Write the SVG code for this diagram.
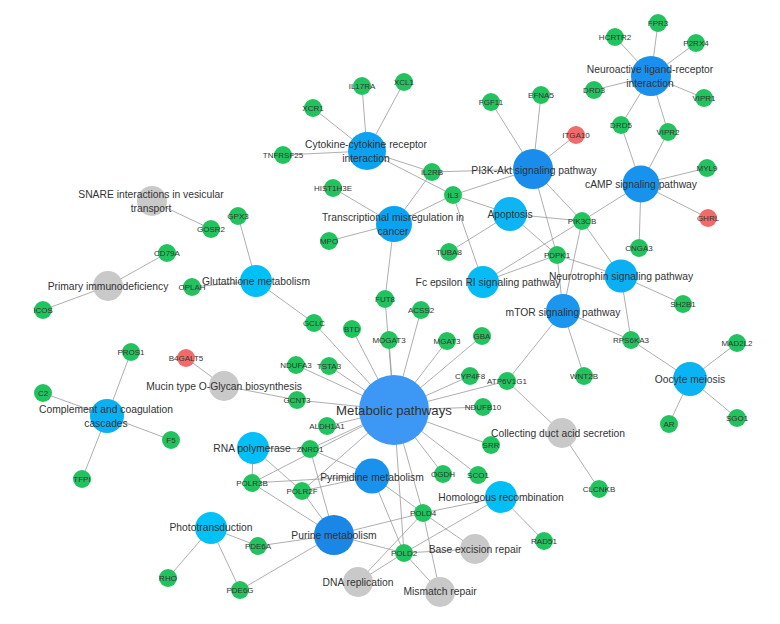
<svg xmlns="http://www.w3.org/2000/svg" width="780" height="624" viewBox="0 0 780 624">
<style>
text{font-family:"Liberation Sans",Arial,sans-serif;fill:#333;text-anchor:middle}
.gene circle{fill:#22C35E}
.red circle{fill:#F26B6B}
.gene text{font-size:8px}
.gray circle{fill:#C9C9C9}
.hub text,.gray text{font-size:10.3px}
#edges line{stroke:#999;stroke-width:0.8}
</style>
<rect width="780" height="624" fill="#fff"/>
<g id="edges">
<line x1="367" y1="151" x2="362" y2="86"/><line x1="367" y1="151" x2="404" y2="82"/><line x1="367" y1="151" x2="313" y2="108"/><line x1="367" y1="151" x2="283" y2="155"/><line x1="367" y1="151" x2="432" y2="172"/><line x1="367" y1="151" x2="453" y2="195"/>
<line x1="533" y1="169" x2="491" y2="102"/><line x1="533" y1="169" x2="541" y2="95"/><line x1="533" y1="169" x2="576" y2="135"/><line x1="533" y1="169" x2="432" y2="172"/><line x1="533" y1="169" x2="453" y2="195"/><line x1="533" y1="169" x2="582" y2="221"/><line x1="533" y1="169" x2="557" y2="255"/>
<line x1="651" y1="76" x2="658" y2="23"/><line x1="651" y1="76" x2="615" y2="37"/><line x1="651" y1="76" x2="696" y2="43"/><line x1="651" y1="76" x2="594" y2="90"/><line x1="651" y1="76" x2="704" y2="98"/><line x1="651" y1="76" x2="621" y2="125"/><line x1="651" y1="76" x2="668" y2="132"/>
<line x1="641" y1="184" x2="621" y2="125"/><line x1="641" y1="184" x2="668" y2="132"/><line x1="641" y1="184" x2="707" y2="168"/><line x1="641" y1="184" x2="708" y2="218"/><line x1="641" y1="184" x2="582" y2="221"/><line x1="641" y1="184" x2="639" y2="248"/>
<line x1="394" y1="224" x2="333" y2="188"/><line x1="394" y1="224" x2="329" y2="241"/><line x1="394" y1="224" x2="432" y2="172"/><line x1="394" y1="224" x2="453" y2="195"/><line x1="394" y1="224" x2="385" y2="299"/>
<line x1="510" y1="214" x2="453" y2="195"/><line x1="510" y1="214" x2="449" y2="252"/><line x1="510" y1="214" x2="582" y2="221"/><line x1="510" y1="214" x2="557" y2="255"/>
<line x1="483" y1="282" x2="453" y2="195"/><line x1="483" y1="282" x2="582" y2="221"/><line x1="483" y1="282" x2="557" y2="255"/>
<line x1="621" y1="276" x2="582" y2="221"/><line x1="621" y1="276" x2="557" y2="255"/><line x1="621" y1="276" x2="683" y2="304"/><line x1="621" y1="276" x2="631" y2="340"/>
<line x1="563" y1="311" x2="582" y2="221"/><line x1="563" y1="311" x2="557" y2="255"/><line x1="563" y1="311" x2="631" y2="340"/><line x1="563" y1="311" x2="584" y2="376"/><line x1="563" y1="311" x2="507" y2="381"/>
<line x1="690" y1="379" x2="631" y2="340"/><line x1="690" y1="379" x2="737" y2="343"/><line x1="690" y1="379" x2="669" y2="424"/><line x1="690" y1="379" x2="737" y2="418"/>
<line x1="562" y1="433" x2="507" y2="381"/><line x1="562" y1="433" x2="599" y2="489"/>
<line x1="152" y1="201" x2="211" y2="229"/>
<line x1="256" y1="281" x2="238" y2="216"/><line x1="256" y1="281" x2="192" y2="287"/><line x1="256" y1="281" x2="314" y2="323"/>
<line x1="108" y1="286" x2="167" y2="253"/><line x1="108" y1="286" x2="43" y2="310"/>
<line x1="107" y1="416" x2="131" y2="352"/><line x1="107" y1="416" x2="43" y2="393"/><line x1="107" y1="416" x2="171" y2="440"/><line x1="107" y1="416" x2="82" y2="479"/>
<line x1="224" y1="386" x2="186" y2="358"/><line x1="224" y1="386" x2="297" y2="400"/>
<line x1="394" y1="410" x2="385" y2="299"/><line x1="394" y1="410" x2="314" y2="323"/><line x1="394" y1="410" x2="352" y2="329"/><line x1="394" y1="410" x2="389" y2="340"/><line x1="394" y1="410" x2="421" y2="310"/><line x1="394" y1="410" x2="447" y2="341"/><line x1="394" y1="410" x2="482" y2="336"/><line x1="394" y1="410" x2="296" y2="365"/><line x1="394" y1="410" x2="329" y2="366"/><line x1="394" y1="410" x2="470" y2="376"/><line x1="394" y1="410" x2="507" y2="381"/><line x1="394" y1="410" x2="297" y2="400"/><line x1="394" y1="410" x2="483" y2="407"/><line x1="394" y1="410" x2="327" y2="426"/><line x1="394" y1="410" x2="310" y2="449"/><line x1="394" y1="410" x2="252" y2="483"/><line x1="394" y1="410" x2="302" y2="491"/><line x1="394" y1="410" x2="491" y2="445"/><line x1="394" y1="410" x2="443" y2="474"/><line x1="394" y1="410" x2="478" y2="475"/><line x1="394" y1="410" x2="423" y2="513"/><line x1="394" y1="410" x2="404" y2="553"/>
<line x1="253" y1="448" x2="310" y2="449"/><line x1="253" y1="448" x2="252" y2="483"/><line x1="253" y1="448" x2="302" y2="491"/>
<line x1="334" y1="535" x2="310" y2="449"/><line x1="334" y1="535" x2="252" y2="483"/><line x1="334" y1="535" x2="302" y2="491"/><line x1="334" y1="535" x2="423" y2="513"/><line x1="334" y1="535" x2="404" y2="553"/><line x1="334" y1="535" x2="258" y2="546"/><line x1="334" y1="535" x2="240" y2="590"/>
<line x1="372" y1="476" x2="310" y2="449"/><line x1="372" y1="476" x2="252" y2="483"/><line x1="372" y1="476" x2="302" y2="491"/><line x1="372" y1="476" x2="423" y2="513"/><line x1="372" y1="476" x2="404" y2="553"/>
<line x1="211" y1="528" x2="168" y2="578"/><line x1="211" y1="528" x2="258" y2="546"/><line x1="211" y1="528" x2="240" y2="590"/>
<line x1="501" y1="497" x2="423" y2="513"/><line x1="501" y1="497" x2="404" y2="553"/><line x1="501" y1="497" x2="544" y2="541"/>
<line x1="358" y1="582" x2="423" y2="513"/><line x1="358" y1="582" x2="404" y2="553"/>
<line x1="475" y1="549" x2="423" y2="513"/><line x1="475" y1="549" x2="404" y2="553"/>
<line x1="440" y1="592" x2="423" y2="513"/><line x1="440" y1="592" x2="404" y2="553"/>
</g>
<g id="genes">
<g id="IL17RA" class="gene"><circle cx="362" cy="86" r="9"/><text x="362" y="86" dy="0.35em">IL17RA</text></g>
<g id="XCL1" class="gene"><circle cx="404" cy="82" r="9"/><text x="404" y="82" dy="0.35em">XCL1</text></g>
<g id="XCR1" class="gene"><circle cx="313" cy="108" r="9"/><text x="313" y="108" dy="0.35em">XCR1</text></g>
<g id="TNFRSF25" class="gene"><circle cx="283" cy="155" r="9"/><text x="283" y="155" dy="0.35em">TNFRSF25</text></g>
<g id="FGF11" class="gene"><circle cx="491" cy="102" r="9"/><text x="491" y="102" dy="0.35em">FGF11</text></g>
<g id="EFNA5" class="gene"><circle cx="541" cy="95" r="9"/><text x="541" y="95" dy="0.35em">EFNA5</text></g>
<g id="ITGA10" class="gene red"><circle cx="576" cy="135" r="9"/><text x="576" y="135" dy="0.35em">ITGA10</text></g>
<g id="FPR3" class="gene"><circle cx="658" cy="23" r="9"/><text x="658" y="23" dy="0.35em">FPR3</text></g>
<g id="HCRTR2" class="gene"><circle cx="615" cy="37" r="9"/><text x="615" y="37" dy="0.35em">HCRTR2</text></g>
<g id="P2RX4" class="gene"><circle cx="696" cy="43" r="9"/><text x="696" y="43" dy="0.35em">P2RX4</text></g>
<g id="DRD3" class="gene"><circle cx="594" cy="90" r="9"/><text x="594" y="90" dy="0.35em">DRD3</text></g>
<g id="VIPR1" class="gene"><circle cx="704" cy="98" r="9"/><text x="704" y="98" dy="0.35em">VIPR1</text></g>
<g id="DRD5" class="gene"><circle cx="621" cy="125" r="9"/><text x="621" y="125" dy="0.35em">DRD5</text></g>
<g id="VIPR2" class="gene"><circle cx="668" cy="132" r="9"/><text x="668" y="132" dy="0.35em">VIPR2</text></g>
<g id="MYL9" class="gene"><circle cx="707" cy="168" r="9"/><text x="707" y="168" dy="0.35em">MYL9</text></g>
<g id="GHRL" class="gene red"><circle cx="708" cy="218" r="9"/><text x="708" y="218" dy="0.35em">GHRL</text></g>
<g id="PIK3CB" class="gene"><circle cx="582" cy="221" r="9"/><text x="582" y="221" dy="0.35em">PIK3CB</text></g>
<g id="CNGA3" class="gene"><circle cx="639" cy="248" r="9"/><text x="639" y="248" dy="0.35em">CNGA3</text></g>
<g id="PDPK1" class="gene"><circle cx="557" cy="255" r="9"/><text x="557" y="255" dy="0.35em">PDPK1</text></g>
<g id="SH2B1" class="gene"><circle cx="683" cy="304" r="9"/><text x="683" y="304" dy="0.35em">SH2B1</text></g>
<g id="IL2RB" class="gene"><circle cx="432" cy="172" r="9"/><text x="432" y="172" dy="0.35em">IL2RB</text></g>
<g id="IL3" class="gene"><circle cx="453" cy="195" r="9"/><text x="453" y="195" dy="0.35em">IL3</text></g>
<g id="HIST1H3E" class="gene"><circle cx="333" cy="188" r="9"/><text x="333" y="188" dy="0.35em">HIST1H3E</text></g>
<g id="MPO" class="gene"><circle cx="329" cy="241" r="9"/><text x="329" y="241" dy="0.35em">MPO</text></g>
<g id="TUBA8" class="gene"><circle cx="449" cy="252" r="9"/><text x="449" y="252" dy="0.35em">TUBA8</text></g>
<g id="FUT8" class="gene"><circle cx="385" cy="299" r="9"/><text x="385" y="299" dy="0.35em">FUT8</text></g>
<g id="ACSS2" class="gene"><circle cx="421" cy="310" r="9"/><text x="421" y="310" dy="0.35em">ACSS2</text></g>
<g id="GPX3" class="gene"><circle cx="238" cy="216" r="9"/><text x="238" y="216" dy="0.35em">GPX3</text></g>
<g id="GOSR2" class="gene"><circle cx="211" cy="229" r="9"/><text x="211" y="229" dy="0.35em">GOSR2</text></g>
<g id="CD79A" class="gene"><circle cx="167" cy="253" r="9"/><text x="167" y="253" dy="0.35em">CD79A</text></g>
<g id="OPLAH" class="gene"><circle cx="192" cy="287" r="9"/><text x="192" y="287" dy="0.35em">OPLAH</text></g>
<g id="ICOS" class="gene"><circle cx="43" cy="310" r="9"/><text x="43" y="310" dy="0.35em">ICOS</text></g>
<g id="PROS1" class="gene"><circle cx="131" cy="352" r="9"/><text x="131" y="352" dy="0.35em">PROS1</text></g>
<g id="B4GALT5" class="gene red"><circle cx="186" cy="358" r="9"/><text x="186" y="358" dy="0.35em">B4GALT5</text></g>
<g id="C2" class="gene"><circle cx="43" cy="393" r="9"/><text x="43" y="393" dy="0.35em">C2</text></g>
<g id="F5" class="gene"><circle cx="171" cy="440" r="9"/><text x="171" y="440" dy="0.35em">F5</text></g>
<g id="TFPI" class="gene"><circle cx="82" cy="479" r="9"/><text x="82" y="479" dy="0.35em">TFPI</text></g>
<g id="GCLC" class="gene"><circle cx="314" cy="323" r="9"/><text x="314" y="323" dy="0.35em">GCLC</text></g>
<g id="BTD" class="gene"><circle cx="352" cy="329" r="9"/><text x="352" y="329" dy="0.35em">BTD</text></g>
<g id="MOGAT3" class="gene"><circle cx="389" cy="340" r="9"/><text x="389" y="340" dy="0.35em">MOGAT3</text></g>
<g id="MGAT3" class="gene"><circle cx="447" cy="341" r="9"/><text x="447" y="341" dy="0.35em">MGAT3</text></g>
<g id="GBA" class="gene"><circle cx="482" cy="336" r="9"/><text x="482" y="336" dy="0.35em">GBA</text></g>
<g id="NDUFA3" class="gene"><circle cx="296" cy="365" r="9"/><text x="296" y="365" dy="0.35em">NDUFA3</text></g>
<g id="TSTA3" class="gene"><circle cx="329" cy="366" r="9"/><text x="329" y="366" dy="0.35em">TSTA3</text></g>
<g id="CYP4F8" class="gene"><circle cx="470" cy="376" r="9"/><text x="470" y="376" dy="0.35em">CYP4F8</text></g>
<g id="ATP6V1G1" class="gene"><circle cx="507" cy="381" r="9"/><text x="507" y="381" dy="0.35em">ATP6V1G1</text></g>
<g id="GCNT3" class="gene"><circle cx="297" cy="400" r="9"/><text x="297" y="400" dy="0.35em">GCNT3</text></g>
<g id="NDUFB10" class="gene"><circle cx="483" cy="407" r="9"/><text x="483" y="407" dy="0.35em">NDUFB10</text></g>
<g id="ALDH1A1" class="gene"><circle cx="327" cy="426" r="9"/><text x="327" y="426" dy="0.35em">ALDH1A1</text></g>
<g id="ZNRD1" class="gene"><circle cx="310" cy="449" r="9"/><text x="310" y="449" dy="0.35em">ZNRD1</text></g>
<g id="SRR" class="gene"><circle cx="491" cy="445" r="9"/><text x="491" y="445" dy="0.35em">SRR</text></g>
<g id="RPS6KA3" class="gene"><circle cx="631" cy="340" r="9"/><text x="631" y="340" dy="0.35em">RPS6KA3</text></g>
<g id="MAD2L2" class="gene"><circle cx="737" cy="343" r="9"/><text x="737" y="343" dy="0.35em">MAD2L2</text></g>
<g id="WNT2B" class="gene"><circle cx="584" cy="376" r="9"/><text x="584" y="376" dy="0.35em">WNT2B</text></g>
<g id="AR" class="gene"><circle cx="669" cy="424" r="9"/><text x="669" y="424" dy="0.35em">AR</text></g>
<g id="SGO1" class="gene"><circle cx="737" cy="418" r="9"/><text x="737" y="418" dy="0.35em">SGO1</text></g>
<g id="CLCNKB" class="gene"><circle cx="599" cy="489" r="9"/><text x="599" y="489" dy="0.35em">CLCNKB</text></g>
<g id="POLR3B" class="gene"><circle cx="252" cy="483" r="9"/><text x="252" y="483" dy="0.35em">POLR3B</text></g>
<g id="POLR2F" class="gene"><circle cx="302" cy="491" r="9"/><text x="302" y="491" dy="0.35em">POLR2F</text></g>
<g id="OGDH" class="gene"><circle cx="443" cy="474" r="9"/><text x="443" y="474" dy="0.35em">OGDH</text></g>
<g id="SCO1" class="gene"><circle cx="478" cy="475" r="9"/><text x="478" y="475" dy="0.35em">SCO1</text></g>
<g id="POLD4" class="gene"><circle cx="423" cy="513" r="9"/><text x="423" y="513" dy="0.35em">POLD4</text></g>
<g id="POLD2" class="gene"><circle cx="404" cy="553" r="9"/><text x="404" y="553" dy="0.35em">POLD2</text></g>
<g id="RAD51" class="gene"><circle cx="544" cy="541" r="9"/><text x="544" y="541" dy="0.35em">RAD51</text></g>
<g id="PDE6A" class="gene"><circle cx="258" cy="546" r="9"/><text x="258" y="546" dy="0.35em">PDE6A</text></g>
<g id="RHO" class="gene"><circle cx="168" cy="578" r="9"/><text x="168" y="578" dy="0.35em">RHO</text></g>
<g id="PDE6G" class="gene"><circle cx="240" cy="590" r="9"/><text x="240" y="590" dy="0.35em">PDE6G</text></g>
</g>
<g id="pathways">
<g id="snare" class="gray"><circle cx="152" cy="201" r="15"/><text x="151" y="194" dy="0.35em">SNARE interactions in vesicular</text><text x="151" y="208" dy="0.35em">transport</text></g>
<g id="primary" class="gray"><circle cx="108" cy="286" r="15"/><text x="108" y="286" dy="0.35em">Primary immunodeficiency</text></g>
<g id="mucin" class="gray"><circle cx="224" cy="386" r="15"/><text x="224" y="386" dy="0.35em">Mucin type O-Glycan biosynthesis</text></g>
<g id="collecting" class="gray"><circle cx="562" cy="433" r="15"/><text x="558" y="433" dy="0.35em">Collecting duct acid secretion</text></g>
<g id="baseex" class="gray"><circle cx="475" cy="549" r="15"/><text x="475" y="549" dy="0.35em">Base excision repair</text></g>
<g id="dnarep" class="gray"><circle cx="358" cy="582" r="15"/><text x="358" y="582" dy="0.35em">DNA replication</text></g>
<g id="mismatch" class="gray"><circle cx="440" cy="592" r="15"/><text x="440" y="591" dy="0.35em">Mismatch repair</text></g>
<g id="cytokine" class="hub"><circle cx="367" cy="151" r="19" fill="#0BA2F1"/><text x="366" y="144" dy="0.35em">Cytokine-cytokine receptor</text><text x="366" y="158" dy="0.35em">interaction</text></g>
<g id="pi3k" class="hub"><circle cx="533" cy="169" r="20" fill="#1A8CEB"/><text x="534" y="170" dy="0.35em">PI3K-Akt signaling pathway</text></g>
<g id="neuroactive" class="hub"><circle cx="651" cy="76" r="20" fill="#1990EE"/><text x="650" y="69" dy="0.35em">Neuroactive ligand-receptor</text><text x="650" y="83" dy="0.35em">interaction</text></g>
<g id="camp" class="hub"><circle cx="641" cy="184" r="18.5" fill="#1793EE"/><text x="641" y="184" dy="0.35em">cAMP signaling pathway</text></g>
<g id="transcriptional" class="hub"><circle cx="394" cy="224" r="18" fill="#0AA3F1"/><text x="393" y="217" dy="0.35em">Transcriptional misregulation in</text><text x="393" y="231" dy="0.35em">cancer</text></g>
<g id="apoptosis" class="hub"><circle cx="510" cy="214" r="17" fill="#0DB5F4"/><text x="510" y="214" dy="0.35em">Apoptosis</text></g>
<g id="fcepsilon" class="hub"><circle cx="483" cy="282" r="16" fill="#07BCF6"/><text x="488" y="282" dy="0.35em">Fc epsilon RI signaling pathway</text></g>
<g id="neurotrophin" class="hub"><circle cx="621" cy="276" r="16.5" fill="#0AB0F3"/><text x="621" y="276" dy="0.35em">Neurotrophin signaling pathway</text></g>
<g id="mtor" class="hub"><circle cx="563" cy="311" r="17" fill="#1A96EF"/><text x="563" y="312" dy="0.35em">mTOR signaling pathway</text></g>
<g id="oocyte" class="hub"><circle cx="690" cy="379" r="17" fill="#0AB3F3"/><text x="690" y="379" dy="0.35em">Oocyte meiosis</text></g>
<g id="glutathione" class="hub"><circle cx="256" cy="281" r="16" fill="#00BFF6"/><text x="256" y="281" dy="0.35em">Glutathione metabolism</text></g>
<g id="complement" class="hub"><circle cx="107" cy="416" r="17" fill="#0AB0F2"/><text x="106" y="409" dy="0.35em">Complement and coagulation</text><text x="106" y="423" dy="0.35em">cascades</text></g>
<g id="rnapol" class="hub"><circle cx="253" cy="448" r="16" fill="#00C0F7"/><text x="252" y="448" dy="0.35em">RNA polymerase</text></g>
<g id="phototransduction" class="hub"><circle cx="211" cy="528" r="16" fill="#00C2F7"/><text x="211" y="527" dy="0.35em">Phototransduction</text></g>
<g id="homologous" class="hub"><circle cx="501" cy="497" r="16" fill="#00BEF6"/><text x="501" y="497" dy="0.35em">Homologous recombination</text></g>
<g id="pyrimidine" class="hub"><circle cx="372" cy="476" r="17.5" fill="#1A91EC"/><text x="372" y="477" dy="0.35em">Pyrimidine metabolism</text></g>
<g id="purine" class="hub"><circle cx="334" cy="535" r="20" fill="#1A86E6"/><text x="334" y="535" dy="0.35em">Purine metabolism</text></g>
<g id="metabolic" class="hub"><circle cx="394" cy="410" r="35" fill="#3C97F5"/><text x="394" y="410" dy="0.35em" style="font-size:13.2px">Metabolic pathways</text></g>
</g>
</svg>
